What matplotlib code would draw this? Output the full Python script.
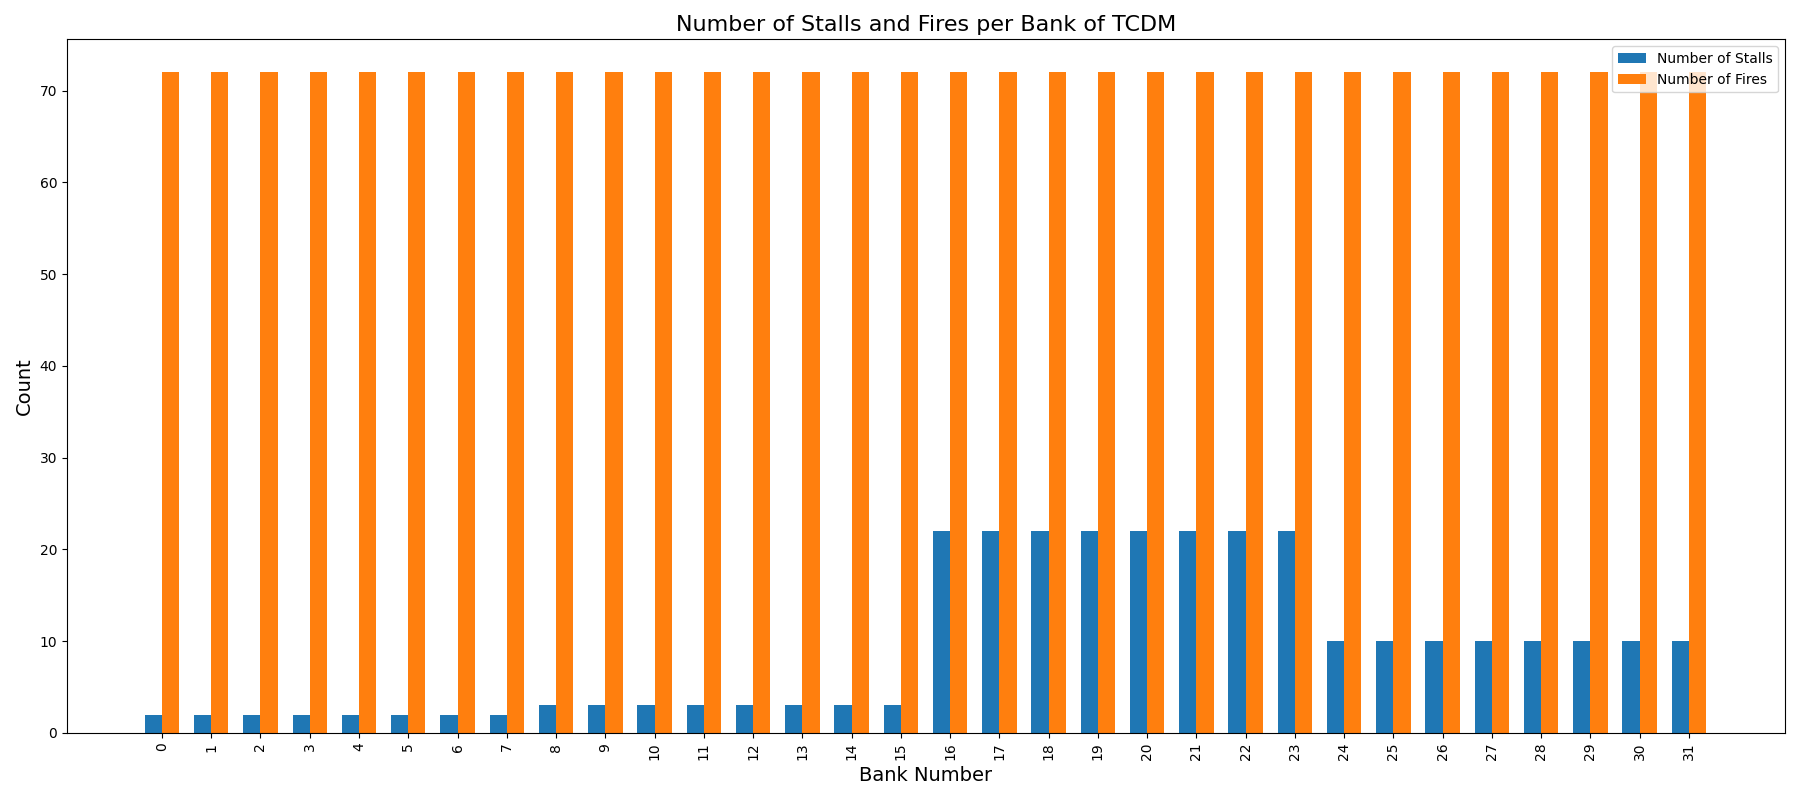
import numpy as np
import matplotlib
matplotlib.use('Agg')
import matplotlib.pyplot as plt

banks = list(range(32))
stalls = [2]*8 + [3]*8 + [22]*8 + [10]*8
fires = [72]*32

x = np.arange(len(banks))
width = 0.35

fig, ax = plt.subplots(figsize=(18, 8), dpi=100)
ax.bar(x - width/2, stalls, width, label='Number of Stalls')
ax.bar(x + width/2, fires, width, label='Number of Fires')

ax.set_xlabel('Bank Number', fontsize=14)
ax.set_ylabel('Count', fontsize=14)
ax.set_title('Number of Stalls and Fires per Bank of TCDM', fontsize=16)
ax.set_xticks(x)
ax.set_xticklabels(banks, rotation=90)
ax.set_xlim(-1.93, 32.95)
ax.legend(loc='upper right')

plt.tight_layout()
plt.savefig('out.png')
